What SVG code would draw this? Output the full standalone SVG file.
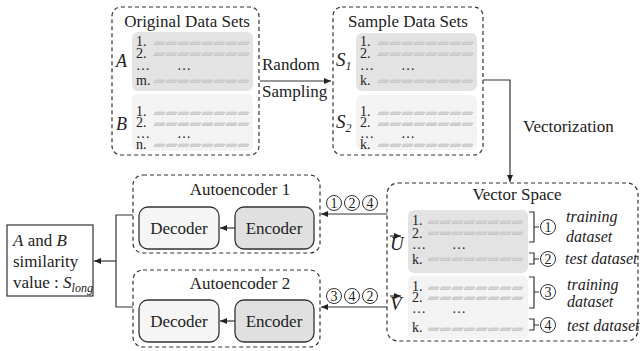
<svg xmlns="http://www.w3.org/2000/svg" width="640" height="351" viewBox="0 0 640 351" font-family="'Liberation Serif', 'DejaVu Serif', serif">
<style>
text{font-family:'Liberation Serif','DejaVu Serif',serif;fill:#222}
.t{font-size:17px}
.s{font-size:14px}
.it{font-style:italic}
.dash{fill:none;stroke:#333;stroke-width:1.2;stroke-dasharray:4 3}
.g1{fill:#e3e3e3}
.g2{fill:#f3f3f3}
.box1{fill:#f5f5f5;stroke:#333;stroke-width:1.3}
.box2{fill:#e0e0e0;stroke:#333;stroke-width:1.3}
.ln{fill:none;stroke:#333;stroke-width:1.2}
.cir{fill:#fff;stroke:#333;stroke-width:1}
.seg{fill:#d4d4d4;stroke:#b8b8b8;stroke-width:0.6}
</style>
<defs>
<marker id="ah" markerWidth="8" markerHeight="8" refX="7" refY="4" orient="auto" markerUnits="userSpaceOnUse">
<path d="M0,1 L7,4 L0,7 Z" fill="#222"/>
</marker>
<g id="row">
<path class="seg" d="M1.5,0h9.5l-1.5,2.5h-9.5z"/>
<path class="seg" d="M13.5,0h9.5l-1.5,2.5h-9.5z"/>
<path class="seg" d="M25.5,0h9.5l-1.5,2.5h-9.5z"/>
<path class="seg" d="M37.5,0h9.5l-1.5,2.5h-9.5z"/>
<path class="seg" d="M49.5,0h9.5l-1.5,2.5h-9.5z"/>
<path class="seg" d="M61.5,0h9.5l-1.5,2.5h-9.5z"/>
<path class="seg" d="M73.5,0h9.5l-1.5,2.5h-9.5z"/>
<path class="seg" d="M85.5,0h9.5l-1.5,2.5h-9.5z"/>
</g>
</defs>

<g id="original-data-sets">
<rect class="dash" x="112" y="7" width="147" height="148" rx="9"/>
<text class="t" x="187" y="27" text-anchor="middle">Original Data Sets</text>
<rect class="g1" x="132" y="32" width="121" height="59" rx="6"/>
<rect class="g2" x="132" y="94" width="121" height="57" rx="6"/>
<text class="it" x="116" y="67" font-size="18">A</text>
<text class="it" x="116" y="130" font-size="18">B</text>
<text class="s"><tspan x="136" y="46">1.</tspan><tspan x="136" y="58">2.</tspan><tspan x="136" y="70">…</tspan><tspan x="177" y="70">…</tspan><tspan x="136" y="85">m.</tspan></text>
<use href="#row" x="154" y="42"/>
<use href="#row" x="154" y="53"/>
<use href="#row" x="154" y="80"/>
<text class="s"><tspan x="136" y="116">1.</tspan><tspan x="136" y="127">2.</tspan><tspan x="136" y="138">…</tspan><tspan x="177" y="138">…</tspan><tspan x="136" y="149">n.</tspan></text>
<use href="#row" x="154" y="112"/>
<use href="#row" x="154" y="123"/>
<use href="#row" x="154" y="144"/>
</g>

<g id="sample-data-sets">
<rect class="dash" x="333" y="7" width="150" height="148" rx="9"/>
<text class="t" x="408" y="27" text-anchor="middle">Sample Data Sets</text>
<rect class="g1" x="356" y="33" width="121" height="58" rx="6"/>
<rect class="g2" x="356" y="95" width="121" height="55" rx="6"/>
<text class="it" x="336" y="66" font-size="19">S<tspan font-size="12" dy="4">1</tspan></text>
<text class="it" x="336" y="128" font-size="19">S<tspan font-size="12" dy="4">2</tspan></text>
<text class="s"><tspan x="360" y="46">1.</tspan><tspan x="360" y="58">2.</tspan><tspan x="360" y="70">…</tspan><tspan x="401" y="70">…</tspan><tspan x="360" y="85">k.</tspan></text>
<use href="#row" x="378" y="42"/>
<use href="#row" x="378" y="53"/>
<use href="#row" x="378" y="80"/>
<text class="s"><tspan x="360" y="116">1.</tspan><tspan x="360" y="127">2.</tspan><tspan x="360" y="138">…</tspan><tspan x="401" y="138">…</tspan><tspan x="360" y="149">k.</tspan></text>
<use href="#row" x="378" y="112"/>
<use href="#row" x="378" y="123"/>
<use href="#row" x="378" y="144"/>
</g>

<g id="vector-space">
<rect class="dash" x="387" y="183" width="251" height="158" rx="11"/>
<text class="t" x="517" y="200" text-anchor="middle">Vector Space</text>
<rect class="g1" x="408" y="210" width="120" height="63" rx="6"/>
<rect class="g2" x="408" y="276" width="120" height="63" rx="6"/>
<text class="it" x="390" y="250" font-size="19">U</text>
<path class="ln" d="M390,236 H401" marker-end="url(#ah)" stroke-width="1"/>
<text class="it" x="390" y="310" font-size="19">V</text>
<path class="ln" d="M390,296 H401" marker-end="url(#ah)" stroke-width="1"/>
<text class="s"><tspan x="412" y="225">1.</tspan><tspan x="412" y="238">2.</tspan><tspan x="412" y="249">…</tspan><tspan x="452" y="249">…</tspan><tspan x="412" y="264">k.</tspan></text>
<use href="#row" x="428" y="221"/>
<use href="#row" x="428" y="232"/>
<use href="#row" x="428" y="258"/>
<text class="s"><tspan x="412" y="291">1.</tspan><tspan x="412" y="302">2.</tspan><tspan x="412" y="313">…</tspan><tspan x="452" y="313">…</tspan><tspan x="412" y="332">k.</tspan></text>
<use href="#row" x="428" y="287"/>
<use href="#row" x="428" y="297"/>
<use href="#row" x="428" y="328"/>
<path class="ln" d="M529,212 H534 V242 H529 M534,227 H539"/>
<path class="ln" d="M529,253 H534 V264 H529 M534,259 H539"/>
<path class="ln" d="M529,277 H534 V308 H529 M534,292 H539"/>
<path class="ln" d="M529,319 H534 V330 H529 M534,325 H539"/>
<circle class="cir" cx="548" cy="227" r="7.5"/>
<text x="548" y="232" font-size="14" text-anchor="middle">1</text>
<circle class="cir" cx="548" cy="259" r="7.5"/>
<text x="548" y="264" font-size="14" text-anchor="middle">2</text>
<circle class="cir" cx="548" cy="292" r="7.5"/>
<text x="548" y="297" font-size="14" text-anchor="middle">3</text>
<circle class="cir" cx="548" cy="325" r="7.5"/>
<text x="548" y="330" font-size="14" text-anchor="middle">4</text>
<text class="it" x="566" y="222" font-size="16">training</text>
<text class="it" x="566" y="242" font-size="16">dataset</text>
<text class="it" x="565" y="264" font-size="16">test dataset</text>
<text class="it" x="567" y="290" font-size="16">training</text>
<text class="it" x="567" y="307" font-size="16">dataset</text>
<text class="it" x="567" y="331" font-size="16">test dataset</text>
</g>

<g id="autoencoder-1">
<rect class="dash" x="133" y="175" width="187" height="78" rx="10"/>
<text class="t" x="240" y="195" text-anchor="middle">Autoencoder 1</text>
<rect class="box1" x="139" y="207" width="80" height="42" rx="9"/>
<text class="t" x="179" y="234" text-anchor="middle">Decoder</text>
<rect class="box2" x="235" y="207" width="79" height="42" rx="9"/>
<text class="t" x="274" y="234" text-anchor="middle">Encoder</text>
</g>

<g id="autoencoder-2">
<rect class="dash" x="133" y="270" width="187" height="77" rx="10"/>
<text class="t" x="240" y="289" text-anchor="middle">Autoencoder 2</text>
<rect class="box1" x="139" y="300" width="80" height="42" rx="9"/>
<text class="t" x="179" y="327" text-anchor="middle">Decoder</text>
<rect class="box2" x="235" y="300" width="79" height="42" rx="9"/>
<text class="t" x="274" y="327" text-anchor="middle">Encoder</text>
</g>

<g id="result">
<rect x="7" y="225" width="86" height="71" fill="#fff" stroke="#333" stroke-width="1.2"/>
<text class="t" x="13" y="246"><tspan class="it">A</tspan> and <tspan class="it">B</tspan></text>
<text class="t" x="13" y="267">similarity</text>
<text class="t" x="13" y="288">value : <tspan class="it">S</tspan><tspan class="it" font-size="12" dy="4">long</tspan></text>
</g>

<g id="connectors">
<path class="ln" d="M260,81 H331" marker-end="url(#ah)"/>
<text class="t" x="262" y="70">Random</text>
<text class="t" x="262" y="97">Sampling</text>
<path class="ln" d="M483,80 H510 V182" marker-end="url(#ah)"/>
<text class="t" x="523" y="132">Vectorization</text>
<path class="ln" d="M387,214 H321" marker-end="url(#ah)"/>
<path class="ln" d="M387,307 H321" marker-end="url(#ah)"/>
<circle class="cir" cx="334" cy="203" r="7.5"/>
<text x="334" y="208" font-size="14" text-anchor="middle">1</text>
<circle class="cir" cx="352" cy="203" r="7.5"/>
<text x="352" y="208" font-size="14" text-anchor="middle">2</text>
<circle class="cir" cx="370" cy="203" r="7.5"/>
<text x="370" y="208" font-size="14" text-anchor="middle">4</text>
<circle class="cir" cx="334" cy="296" r="7.5"/>
<text x="334" y="301" font-size="14" text-anchor="middle">3</text>
<circle class="cir" cx="352" cy="296" r="7.5"/>
<text x="352" y="301" font-size="14" text-anchor="middle">4</text>
<circle class="cir" cx="370" cy="296" r="7.5"/>
<text x="370" y="301" font-size="14" text-anchor="middle">2</text>
<path class="ln" d="M235,228 H220" marker-end="url(#ah)"/>
<path class="ln" d="M235,321 H220" marker-end="url(#ah)"/>
<path class="ln" d="M133,215 H116 V307 H133"/>
<path class="ln" d="M116,261 H94" marker-end="url(#ah)"/>
</g>
</svg>
